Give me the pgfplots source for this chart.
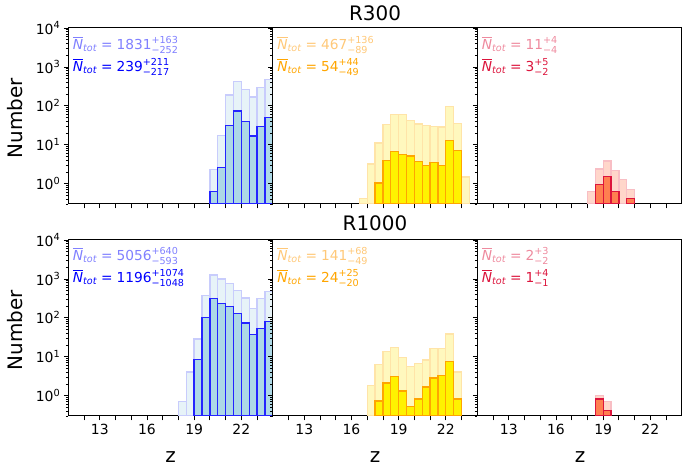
\documentclass[border=0pt]{standalone}
\usepackage{amsmath}
\usepackage{fontspec}
\setmainfont{DejaVu Sans}
\usepackage{pgfplots}
\pgfplotsset{compat=1.18}

\definecolor{lblue}{HTML}{ADD8E6}
\definecolor{edgeblue}{HTML}{2424FF}
\definecolor{lbluefaint}{HTML}{E7F3F8}
\definecolor{bluefaint}{HTML}{C8CCFC}
\definecolor{yelfaint}{HTML}{FFF8BE}
\definecolor{orafaint}{HTML}{FFE4A8}
\definecolor{myorange}{HTML}{FFA500}
\definecolor{coral}{HTML}{FF7F50}
\definecolor{coralfaint}{HTML}{FFD6CA}
\definecolor{crimfaint}{HTML}{F8BEC4}
\definecolor{crimson}{HTML}{DC143C}
\definecolor{txtblue}{HTML}{8080FF}
\definecolor{txtorange}{HTML}{FFC878}
\definecolor{txtcrim}{HTML}{EE8A9E}

\newcommand{\ntot}[3]{$\overline{\text{\itshape N}}_{\text{\itshape tot}}\mathrel{\text{=}}\text{#1}^{\text{+#2}}_{\text{−#3}}$}
\newcommand{\ntsize}{\fontsize{13.8}{16}\selectfont}
\newcommand{\lblsize}{\fontsize{20}{24}\selectfont}

\begin{document}
\begin{tikzpicture}
\path[use as bounding box] (0,0) rectangle (683bp,474bp);

% ---------------- R300 ----------------
\begin{axis}[at={(68.3bp,270bp)}, anchor=south west,
  width=204.5bp, height=176bp, scale only axis,
  xmin=11, xmax=24, ymode=log, ymin=0.3, ymax=10000, log origin y=infty,
  xtick={12,...,23}, xticklabels={},
  ytick={1,10,100,1000,10000},
  yticklabels={10\textsuperscript{0},10\textsuperscript{1},10\textsuperscript{2},10\textsuperscript{3},10\textsuperscript{4}},
  minor ytick={0.3,0.4,0.5,0.6,0.7,0.8,0.9,2,3,4,5,6,7,8,9,20,30,40,50,60,70,80,90,200,300,400,500,600,700,800,900,2000,3000,4000,5000,6000,7000,8000,9000},
  tick align=outside, xtick pos=left, ytick pos=left,
  major tick length=4.5bp, minor tick length=2.5bp,
  axis line style={line width=1bp}, tick style={line width=0.8bp, black},
  tick label style={font=\fontsize{14}{16}\selectfont}]
\addplot[ybar, bar width=0.5, bar shift=0pt, line width=1.3bp, fill=lbluefaint, draw=bluefaint] coordinates {
  (20.25,2.3) (20.75,17.6) (21.25,189) (21.75,423) (22.25,259) (22.75,168) (23.25,291) (23.75,466)};
\addplot[ybar, bar width=0.5, bar shift=0pt, line width=1.3bp, fill=lblue, draw=edgeblue] coordinates {
  (20.25,0.62) (20.75,2.57) (21.25,31) (21.75,74) (22.25,39) (22.75,16.9) (23.25,29.9) (23.75,49.7)};
\node[anchor=west, font=\ntsize, text=txtblue] at (rel axis cs:0.005,0.905) {\ntot{1831}{163}{252}};
\node[anchor=west, font=\ntsize, text=blue] at (rel axis cs:0.005,0.78) {\ntot{239}{211}{217}};
\end{axis}

\begin{axis}[at={(272.8bp,270bp)}, anchor=south west,
  width=204.5bp, height=176bp, scale only axis,
  xmin=11, xmax=24, ymode=log, ymin=0.3, ymax=10000, log origin y=infty,
  xtick={12,...,23}, xticklabels={},
  ytick={1,10,100,1000,10000}, yticklabels={},
  minor ytick={0.3,0.4,0.5,0.6,0.7,0.8,0.9,2,3,4,5,6,7,8,9,20,30,40,50,60,70,80,90,200,300,400,500,600,700,800,900,2000,3000,4000,5000,6000,7000,8000,9000},
  tick align=outside, xtick pos=left, ytick pos=left,
  major tick length=4.5bp, minor tick length=2.5bp,
  axis line style={line width=1bp}, tick style={line width=0.8bp, black},
  tick label style={font=\fontsize{14}{16}\selectfont}]
\addplot[ybar, bar width=0.5, bar shift=0pt, line width=1.3bp, fill=yelfaint, draw=orafaint] coordinates {
  (16.75,0.41) (17.25,3.18) (17.75,11) (18.25,32.9) (18.75,59) (19.25,59) (19.75,41.7)
  (20.25,34.3) (20.75,31) (21.25,29) (21.75,28.7) (22.25,95) (22.75,35) (23.25,1.48)};
\addplot[ybar, bar width=0.5, bar shift=0pt, line width=1.3bp, fill=yellow, draw=myorange] coordinates {
  (17.75,1.04) (18.25,3.95) (18.75,6.7) (19.25,5.7) (19.75,5.1) (20.25,3.65)
  (20.75,2.94) (21.25,3.44) (21.75,2.94) (22.25,12.8) (22.75,7.0)};
\node[anchor=west, font=\ntsize, text=txtorange] at (rel axis cs:0.005,0.905) {\ntot{467}{136}{89}};
\node[anchor=west, font=\ntsize, text=myorange] at (rel axis cs:0.005,0.78) {\ntot{54}{44}{49}};
\end{axis}

\begin{axis}[at={(477.3bp,270bp)}, anchor=south west,
  width=204.5bp, height=176bp, scale only axis,
  xmin=11, xmax=24, ymode=log, ymin=0.3, ymax=10000, log origin y=infty,
  xtick={12,...,23}, xticklabels={},
  ytick={1,10,100,1000,10000}, yticklabels={},
  minor ytick={0.3,0.4,0.5,0.6,0.7,0.8,0.9,2,3,4,5,6,7,8,9,20,30,40,50,60,70,80,90,200,300,400,500,600,700,800,900,2000,3000,4000,5000,6000,7000,8000,9000},
  tick align=outside, xtick pos=left, ytick pos=left,
  major tick length=4.5bp, minor tick length=2.5bp,
  axis line style={line width=1bp}, tick style={line width=0.8bp, black},
  tick label style={font=\fontsize{14}{16}\selectfont}]
\addplot[ybar, bar width=0.5, bar shift=0pt, line width=1.3bp, fill=coralfaint, draw=crimfaint] coordinates {
  (18.25,0.62) (18.75,2.37) (19.25,3.8) (19.75,2.19) (20.25,1.29) (20.75,0.72)};
\addplot[ybar, bar width=0.5, bar shift=0pt, line width=1.3bp, fill=coral, draw=crimson] coordinates {
  (18.75,0.94) (19.25,1.54) (19.75,0.62) (20.75,0.42)};
\node[anchor=west, font=\ntsize, text=txtcrim] at (rel axis cs:0.005,0.905) {\ntot{11}{4}{4}};
\node[anchor=west, font=\ntsize, text=crimson] at (rel axis cs:0.005,0.78) {\ntot{3}{5}{2}};
\end{axis}

% ---------------- R1000 ----------------
\begin{axis}[at={(68.3bp,58bp)}, anchor=south west,
  width=204.5bp, height=176bp, scale only axis,
  xmin=11, xmax=24, ymode=log, ymin=0.3, ymax=10000, log origin y=infty,
  xtick={12,...,23}, xticklabels={,13,,,16,,,19,,,22,},
  ytick={1,10,100,1000,10000},
  yticklabels={10\textsuperscript{0},10\textsuperscript{1},10\textsuperscript{2},10\textsuperscript{3},10\textsuperscript{4}},
  minor ytick={0.3,0.4,0.5,0.6,0.7,0.8,0.9,2,3,4,5,6,7,8,9,20,30,40,50,60,70,80,90,200,300,400,500,600,700,800,900,2000,3000,4000,5000,6000,7000,8000,9000},
  tick align=outside, xtick pos=left, ytick pos=left,
  major tick length=4.5bp, minor tick length=2.5bp,
  axis line style={line width=1bp}, tick style={line width=0.8bp, black},
  tick label style={font=\fontsize{14}{16}\selectfont}]
\addplot[ybar, bar width=0.5, bar shift=0pt, line width=1.3bp, fill=lbluefaint, draw=bluefaint] coordinates {
  (18.25,0.71) (18.75,4.07) (19.25,28.8) (19.75,376) (20.25,1256) (20.75,991)
  (21.25,766) (21.75,496) (22.25,321) (22.75,174) (23.25,308) (23.75,476)};
\addplot[ybar, bar width=0.5, bar shift=0pt, line width=1.3bp, fill=lblue, draw=edgeblue] coordinates {
  (19.25,8.6) (19.75,104) (20.25,308) (20.75,234) (21.25,192) (21.75,127)
  (22.25,73) (22.75,38) (23.25,54) (23.75,82)};
\node[anchor=west, font=\ntsize, text=txtblue] at (rel axis cs:0.005,0.91) {\ntot{5056}{640}{593}};
\node[anchor=west, font=\ntsize, text=blue] at (rel axis cs:0.005,0.785) {\ntot{1196}{1074}{1048}};
\end{axis}

\begin{axis}[at={(272.8bp,58bp)}, anchor=south west,
  width=204.5bp, height=176bp, scale only axis,
  xmin=11, xmax=24, ymode=log, ymin=0.3, ymax=10000, log origin y=infty,
  xtick={12,...,23}, xticklabels={,13,,,16,,,19,,,22,},
  ytick={1,10,100,1000,10000}, yticklabels={},
  minor ytick={0.3,0.4,0.5,0.6,0.7,0.8,0.9,2,3,4,5,6,7,8,9,20,30,40,50,60,70,80,90,200,300,400,500,600,700,800,900,2000,3000,4000,5000,6000,7000,8000,9000},
  tick align=outside, xtick pos=left, ytick pos=left,
  major tick length=4.5bp, minor tick length=2.5bp,
  axis line style={line width=1bp}, tick style={line width=0.8bp, black},
  tick label style={font=\fontsize{14}{16}\selectfont}]
\addplot[ybar, bar width=0.5, bar shift=0pt, line width=1.3bp, fill=yelfaint, draw=orafaint] coordinates {
  (17.25,1.81) (17.75,6.2) (18.25,13.6) (18.75,17.2) (19.25,9.5) (19.75,5.6)
  (20.25,6.7) (20.75,8.3) (21.25,16.2) (21.75,16.2) (22.25,38.7) (22.75,4.07)};
\addplot[ybar, bar width=0.5, bar shift=0pt, line width=1.3bp, fill=yellow, draw=myorange] coordinates {
  (17.75,0.73) (18.25,2.12) (18.75,3.15) (19.25,1.32) (19.75,0.52) (20.25,0.82)
  (20.75,1.67) (21.25,2.85) (21.75,3.27) (22.25,7.5) (22.75,0.82)};
\node[anchor=west, font=\ntsize, text=txtorange] at (rel axis cs:0.005,0.91) {\ntot{141}{68}{49}};
\node[anchor=west, font=\ntsize, text=myorange] at (rel axis cs:0.005,0.785) {\ntot{24}{25}{20}};
\end{axis}

\begin{axis}[at={(477.3bp,58bp)}, anchor=south west,
  width=204.5bp, height=176bp, scale only axis,
  xmin=11, xmax=24, ymode=log, ymin=0.3, ymax=10000, log origin y=infty,
  xtick={12,...,23}, xticklabels={,13,,,16,,,19,,,22,},
  ytick={1,10,100,1000,10000}, yticklabels={},
  minor ytick={0.3,0.4,0.5,0.6,0.7,0.8,0.9,2,3,4,5,6,7,8,9,20,30,40,50,60,70,80,90,200,300,400,500,600,700,800,900,2000,3000,4000,5000,6000,7000,8000,9000},
  tick align=outside, xtick pos=left, ytick pos=left,
  major tick length=4.5bp, minor tick length=2.5bp,
  axis line style={line width=1bp}, tick style={line width=0.8bp, black},
  tick label style={font=\fontsize{14}{16}\selectfont}]
\addplot[ybar, bar width=0.5, bar shift=0pt, line width=1.3bp, fill=coralfaint, draw=crimfaint] coordinates {
  (18.75,1.0) (19.25,0.71)};
\addplot[ybar, bar width=0.5, bar shift=0pt, line width=1.3bp, fill=coral, draw=crimson] coordinates {
  (18.75,0.82) (19.25,0.41)};
\node[anchor=west, font=\ntsize, text=txtcrim] at (rel axis cs:0.005,0.91) {\ntot{2}{3}{2}};
\node[anchor=west, font=\ntsize, text=crimson] at (rel axis cs:0.005,0.785) {\ntot{1}{4}{1}};
\end{axis}

% titles and labels
\node[font=\lblsize] at (375bp,460.5bp) {R300};
\node[font=\lblsize] at (375bp,250.5bp) {R1000};
\node[font=\lblsize, rotate=90] at (15bp,356bp) {Number};
\node[font=\lblsize, rotate=90] at (15bp,144bp) {Number};
\node[font=\lblsize] at (170.5bp,17bp) {z};
\node[font=\lblsize] at (375bp,17bp) {z};
\node[font=\lblsize] at (580bp,17bp) {z};
\end{tikzpicture}
\end{document}
